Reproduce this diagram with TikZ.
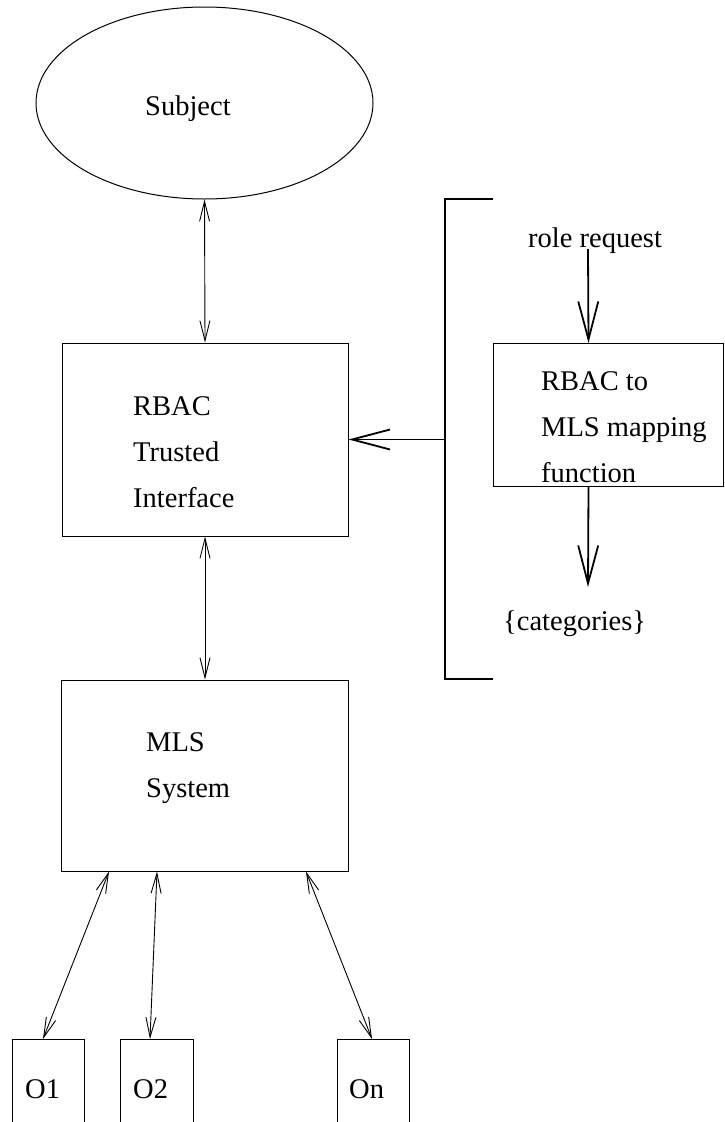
\documentclass[tikz,border=0pt]{standalone}
\usepackage{fontspec}
\setmainfont{Liberation Serif}
\usetikzlibrary{shapes.geometric,arrows.meta}

\begin{document}
\begin{tikzpicture}[x=1pt,y=-1pt,
    box/.style={draw, line width=1pt, inner sep=0pt},
    txt/.style={font=\fontsize{28.5}{46}\selectfont, inner sep=0pt, align=left, anchor=base west},
    thinarrow/.style={line width=0.9pt, {Straight Barb[length=20pt,width=10pt]}-{Straight Barb[length=20pt,width=10pt]}},
    bigarrow/.style={line width=1.8pt, -{Straight Barb[length=38pt,width=20pt]}}]
    \useasboundingbox (0,0) rectangle (724,1122);
    % left column
    \node[box, ellipse, minimum width=337pt, minimum height=192pt] (subject) at (204.5,103) {};
    \node[txt] at (145,115) {Subject};
    \node[box, minimum width=286pt, minimum height=193pt] (rbac) at (205,439.5) {};
    \node[txt] at (133,507) {RBAC\\Trusted\\Interface}; % base = last line
    \node[box, minimum width=287pt, minimum height=191pt] (mls) at (205,775.5) {};
    \node[txt] at (146,797) {MLS\\System};
    \draw[thinarrow] (subject.south) -- (rbac.north);
    \draw[thinarrow] (rbac.south) -- (mls.north);
    % objects, cut at the bottom
    \begin{scope}
    \clip (0,0) rectangle (724,1122);
    \node[box, minimum width=72pt, minimum height=120pt, anchor=north] (o1) at (48,1039) {};
    \node[box, minimum width=73pt, minimum height=120pt, anchor=north] (o2) at (156.5,1039) {};
    \node[box, minimum width=72pt, minimum height=120pt, anchor=north] (on) at (373,1039) {};
    \end{scope}
    \node[txt] at (25,1098) {O1};
    \node[txt] at (133,1098) {O2};
    \node[txt] at (349,1098) {On};
    \draw[thinarrow] ([xshift=-96pt]mls.south) -- ([xshift=-5pt]o1.north);
    \draw[thinarrow] ([xshift=-48pt]mls.south) -- ([xshift=-6.5pt]o2.north);
    \draw[thinarrow] ([xshift=101pt]mls.south) -- ([xshift=-1pt]on.north);
    % mapping part
    \coordinate (brtop) at (493,199);
    \coordinate (brbot) at (493,679);
    \coordinate (brmid) at (445,439.5);
    \draw[line width=1.8pt] (brtop) -- ++(-48,0) |- (brbot);
    \draw[bigarrow] (brmid) -- (rbac.east);
    \node[box, minimum width=230pt, minimum height=143pt, anchor=north west] (map) at (493,343) {};
    \node[txt] at (541,482) {RBAC to\\MLS mapping\\function};
    \node[txt] (req) at (528,247) {role request};
    \node[txt] (cat) at (503,630) {\{categories\}};
    \coordinate (reqend) at (588,249);
    \coordinate (catend) at (588,587);
    \draw[bigarrow] (reqend) -- ([xshift=-20pt]map.north);
    \draw[bigarrow] ([xshift=-20pt]map.south) -- (catend);
\end{tikzpicture}
\end{document}
